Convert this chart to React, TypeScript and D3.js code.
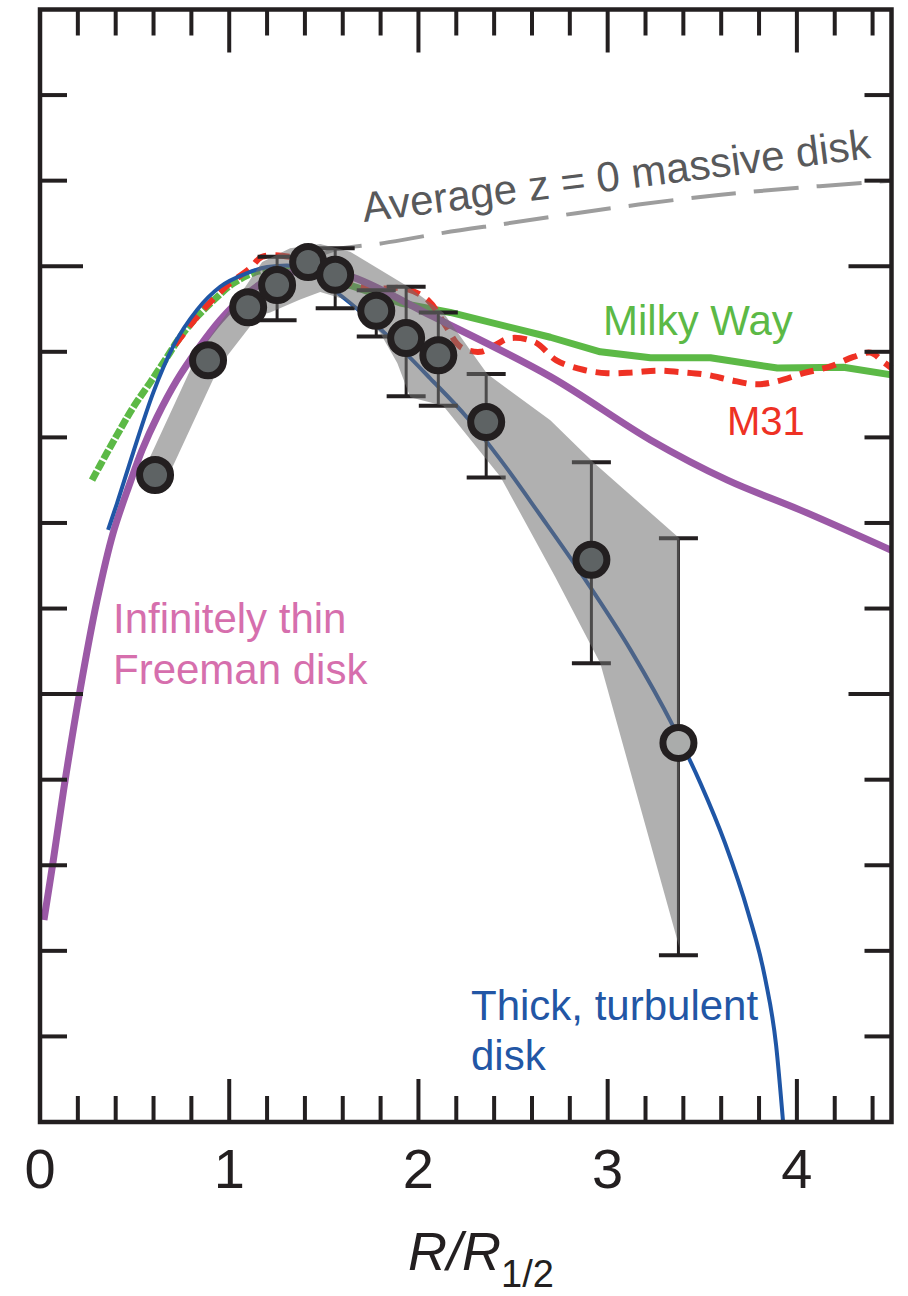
import React from 'react';
import * as d3 from 'd3';

const W = 908;
const H = 1296;
const FONT = '"Liberation Sans", Arial, Helvetica, sans-serif';

// Axis extents and tick labels
const xDomain = [0, 4.5];
const yDomain = [0, 1.3];
const xMajorTicks = [1, 2, 3, 4];
const xMinorTicks = [0.2, 0.4, 0.6, 0.8, 1.2, 1.4, 1.6, 1.8, 2.2, 2.4, 2.6, 2.8, 3.2, 3.4, 3.6, 3.8, 4.2, 4.4];
const xTickLabels = ['0', '1', '2', '3', '4'];
const xTickValues = [0, 1, 2, 3, 4];
const yMajorTicks = [0.5, 1.0];
const yMinorTicks = [0.1, 0.2, 0.3, 0.4, 0.6, 0.7, 0.8, 0.9, 1.1, 1.2];

// Stacked observed rotation curve (R/R1/2, normalised velocity) with error bars
const obsR = [0.608, 0.888, 1.1, 1.253, 1.417, 1.56, 1.777, 1.935, 2.105, 2.358, 2.914, 3.374];
const obsV = [0.756, 0.89, 0.952, 0.978, 1.005, 0.99, 0.948, 0.916, 0.896, 0.818, 0.657, 0.443];
const obsHi = [null, null, null, 1.011, null, 1.021, 0.972, 0.976, 0.946, 0.874, 0.771, 0.682];
const obsLo = [null, null, null, 0.937, null, 0.951, 0.918, 0.848, 0.837, 0.753, 0.536, 0.195];
const obsLight = [false, false, false, false, false, false, false, false, false, false, false, true];

// Uncertainty envelope: upper edge (left to right), lower edge (right to left)
const bandTopR = [0.55, 0.83, 1.036, 1.174, 1.322, 1.481, 1.639, 1.946, 2.131, 2.364, 2.697, 2.924, 3.379];
const bandTopV = [0.762, 0.896, 0.96, 1.005, 1.021, 1.026, 1.017, 0.976, 0.946, 0.874, 0.82, 0.771, 0.682];
const bandBotR = [3.379, 2.961, 2.723, 2.433, 2.131, 1.957, 1.888, 1.798, 1.613, 1.481, 1.375, 1.216, 1.153, 0.947, 0.666];
const bandBotV = [0.204, 0.536, 0.637, 0.754, 0.837, 0.847, 0.887, 0.922, 0.961, 0.97, 0.961, 0.946, 0.942, 0.883, 0.749];

// Infinitely thin Freeman disk
const freemanR = [0.021, 0.069, 0.132, 0.212, 0.301, 0.386, 0.476, 0.539, 0.619, 0.724, 0.83, 0.952, 1.074, 1.2, 1.306, 1.444, 1.655, 2.078, 2.697, 3.226, 3.633, 4.019, 4.5];
const freemanV = [0.236, 0.304, 0.398, 0.505, 0.609, 0.688, 0.747, 0.785, 0.824, 0.867, 0.902, 0.937, 0.964, 0.984, 0.992, 0.996, 0.987, 0.941, 0.871, 0.797, 0.75, 0.715, 0.668];

// Thick, turbulent disk
const thickR = [0.36, 0.407, 0.492, 0.598, 0.703, 0.83, 0.952, 1.095, 1.2, 1.306, 1.444, 1.571, 1.851, 2.062, 2.258, 2.433, 2.644, 2.893, 3.12, 3.347, 3.49, 3.62, 3.742, 3.832, 3.89, 3.927];
const thickV = [0.692, 0.723, 0.782, 0.852, 0.906, 0.949, 0.976, 0.992, 0.999, 1.001, 0.99, 0.969, 0.916, 0.869, 0.823, 0.774, 0.709, 0.63, 0.552, 0.462, 0.396, 0.326, 0.245, 0.168, 0.09, 0.0];

// Milky Way: inner (scattered) and outer parts
const mwInnerR = [0.275, 0.354, 0.423, 0.492, 0.582, 0.672, 0.74, 0.83, 0.936, 1.021, 1.137, 1.269];
const mwInnerV = [0.75, 0.782, 0.809, 0.835, 0.864, 0.894, 0.917, 0.941, 0.964, 0.98, 0.993, 0.998];
const mwOuterR = [1.269, 1.428, 1.676, 1.904, 2.168, 2.697, 2.961, 3.226, 3.543, 3.897, 4.246, 4.5];
const mwOuterV = [0.998, 0.993, 0.975, 0.957, 0.946, 0.917, 0.9, 0.893, 0.893, 0.881, 0.882, 0.873];

// M31
const m31R = [0.714, 0.846, 0.978, 1.111, 1.174, 1.322, 1.507, 1.666, 1.798, 1.93, 2.052, 2.142, 2.221, 2.327, 2.406, 2.485, 2.618, 2.729, 2.871, 2.998, 3.136, 3.263, 3.4, 3.527, 3.649, 3.781, 3.887, 4.035, 4.178, 4.299, 4.389, 4.458, 4.5];
const m31V = [0.908, 0.945, 0.975, 0.998, 1.011, 1.011, 0.998, 0.978, 0.974, 0.974, 0.96, 0.931, 0.906, 0.9, 0.908, 0.916, 0.911, 0.89, 0.879, 0.875, 0.876, 0.878, 0.876, 0.873, 0.867, 0.862, 0.865, 0.875, 0.883, 0.894, 0.899, 0.888, 0.881];

// Average z = 0 massive disk
const z0R = [1.47, 1.549, 1.814, 2.131, 2.47, 2.961, 3.49, 3.808, 4.5];
const z0V = [1.012, 1.019, 1.027, 1.039, 1.05, 1.066, 1.081, 1.088, 1.1];

const INK = '#231f20';

export default function App() {
  const x = d3.scaleLinear().domain(xDomain).range([40, 891.5]);
  const y = d3.scaleLinear().domain(yDomain).range([1122, 9.5]);

  const pts = (rs: number[], vs: number[]) => rs.map((r, i) => [r, vs[i]] as [number, number]);
  const smooth = d3.line<[number, number]>().x(d => x(d[0])).y(d => y(d[1])).curve(d3.curveCatmullRom.alpha(0.5));
  const mono = d3.line<[number, number]>().x(d => x(d[0])).y(d => y(d[1])).curve(d3.curveMonotoneX);
  const straight = d3.line<[number, number]>().x(d => x(d[0])).y(d => y(d[1]));

  const bandPts = [...pts(bandTopR, bandTopV), ...pts(bandBotR, bandBotV)];
  const bandPath = straight(bandPts) + 'Z';

  const x0 = x(0), x1 = x(4.5), yb = y(0), yt = y(1.3);
  const tickLines: JSX.Element[] = [];
  const tickW = 4;
  xMinorTicks.forEach((t, i) => {
    tickLines.push(<line key={'xb' + i} x1={x(t)} x2={x(t)} y1={yb} y2={yb - 26} />);
    tickLines.push(<line key={'xt' + i} x1={x(t)} x2={x(t)} y1={yt} y2={yt + 26} />);
  });
  xMajorTicks.forEach((t, i) => {
    tickLines.push(<line key={'xB' + i} x1={x(t)} x2={x(t)} y1={yb} y2={yb - 43} />);
    tickLines.push(<line key={'xT' + i} x1={x(t)} x2={x(t)} y1={yt} y2={yt + 43} />);
  });
  yMinorTicks.forEach((t, i) => {
    tickLines.push(<line key={'yl' + i} x1={x0} x2={x0 + 27} y1={y(t)} y2={y(t)} />);
    tickLines.push(<line key={'yr' + i} x1={x1} x2={x1 - 27} y1={y(t)} y2={y(t)} />);
  });
  yMajorTicks.forEach((t, i) => {
    tickLines.push(<line key={'yL' + i} x1={x0} x2={x0 + 43} y1={y(t)} y2={y(t)} />);
    tickLines.push(<line key={'yR' + i} x1={x1} x2={x1 - 43} y1={y(t)} y2={y(t)} />);
  });

  const capHalf = 19.5;

  return (
    <svg width={W} height={H} viewBox={`0 0 ${W} ${H}`}
      style={{ position: 'absolute', left: 0, top: 0, background: '#fff' }}
      fontFamily={FONT}>
      <rect x={0} y={0} width={W} height={H} fill="#fff" />

      {/* model and comparison curves */}
      <path d={smooth(pts(z0R, z0V)) || ''} fill="none" stroke="#9d9d9d" strokeWidth={4} strokeDasharray="45 18" />
      <path d={smooth(pts(mwInnerR, mwInnerV)) || ''} fill="none" stroke="#5cb946" strokeWidth={7} strokeDasharray="10 2" />
      <path d={straight(pts(mwOuterR, mwOuterV)) || ''} fill="none" stroke="#5cb946" strokeWidth={7} strokeLinejoin="round" />
      <path d={smooth(pts(m31R, m31V)) || ''} fill="none" stroke="#ee3124" strokeWidth={6} strokeDasharray="14 9" />
      <path d={smooth(pts(freemanR, freemanV)) || ''} fill="none" stroke="#9b59a6" strokeWidth={7} />
      <path d={mono(pts(thickR, thickV)) || ''} fill="none" stroke="#1f56a6" strokeWidth={4} />

      {/* error bars */}
      <g stroke={INK}>
        {obsR.map((r, i) => {
          const hi = obsHi[i];
          const lo = obsLo[i];
          if (hi === null || lo === null) return null;
          const cx = x(r);
          return (
            <g key={'eb' + i}>
              <line x1={cx} x2={cx} y1={y(hi)} y2={y(lo)} strokeWidth={3} />
              <line x1={cx - capHalf} x2={cx + capHalf} y1={y(hi)} y2={y(hi)} strokeWidth={4} />
              <line x1={cx - capHalf} x2={cx + capHalf} y1={y(lo)} y2={y(lo)} strokeWidth={4} />
            </g>
          );
        })}
      </g>

      {/* uncertainty envelope */}
      <path d={bandPath} fill="#707070" fillOpacity={0.55} stroke="none" />

      {/* data points */}
      {obsR.map((r, i) => (
        <circle key={'pt' + i} cx={x(r)} cy={y(obsV[i])} r={15.5}
          fill={obsLight[i] ? '#aaacab' : '#5e6364'} stroke={INK} strokeWidth={7} />
      ))}

      {/* frame and ticks */}
      <g stroke={INK} strokeWidth={tickW}>{tickLines}</g>
      <rect x={x0} y={yt} width={x1 - x0} height={yb - yt} fill="none" stroke={INK} strokeWidth={4.5} />

      {/* tick labels */}
      {xTickValues.map((t, i) => (
        <text key={'xl' + i} x={x(t)} y={1188} fontSize={56} textAnchor="middle" fill={INK}>{xTickLabels[i]}</text>
      ))}

      {/* axis title */}
      <text x={408} y={1270} fill={INK}>
        <tspan fontSize={54} fontStyle="italic">R/R</tspan>
        <tspan fontSize={38} dy={17}>1/2</tspan>
      </text>

      {/* curve labels */}
      <text transform="translate(364,222) rotate(-7.2)" fontSize={42} fill="#58595b">Average z = 0 massive disk</text>
      <text x={603} y={335} fontSize={42} fill="#5cb946">Milky Way</text>
      <text x={727} y={435} fontSize={40} fill="#ee3124">M31</text>
      <text x={113} y={633} fontSize={42} fill="#d66fad">Infinitely thin</text>
      <text x={113} y={684} fontSize={42} fill="#d66fad">Freeman disk</text>
      <text x={471} y={1020} fontSize={42} fill="#2256a5">Thick, turbulent</text>
      <text x={471} y={1070} fontSize={42} fill="#2256a5">disk</text>
    </svg>
  );
}
